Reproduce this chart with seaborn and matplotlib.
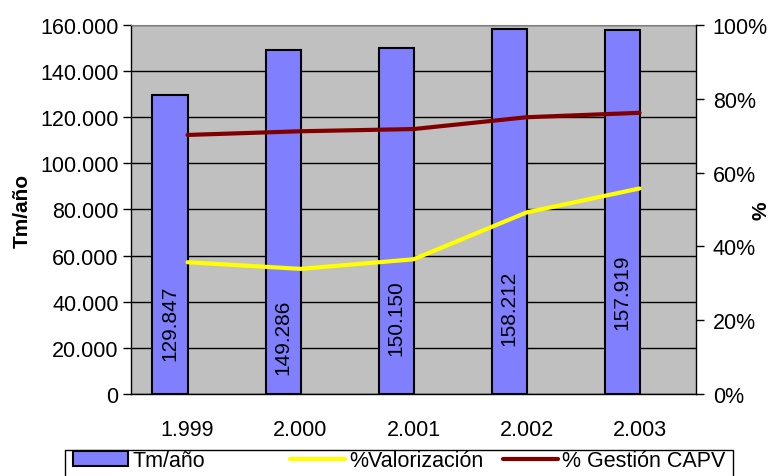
import numpy as np
import pandas as pd
import matplotlib
matplotlib.use("Agg")
import matplotlib.pyplot as plt
import seaborn as sns
from matplotlib.ticker import FuncFormatter, FixedLocator
from matplotlib.patches import Patch, Rectangle
from matplotlib.lines import Line2D

# data
years = ["1.999", "2.000", "2.001", "2.002", "2.003"]
tm_anyo = [129847, 149286, 150150, 158212, 157919]
pct_valorizacion = [35.7, 33.9, 36.5, 49.2, 55.7]
pct_gestion = [70.2, 71.2, 71.8, 75.0, 76.2]

# layout only: where the rotated value labels sit (data units, left axis)
label_y = [31200, 25200, 33400, 37700, 44700]

BAR_COLOR = "#8080FF"
YELLOW = "#FFFF00"
DARKRED = "#800000"

sns.set_style("white")
plt.rcParams["font.family"] = ["Liberation Sans", "DejaVu Sans"]
plt.rcParams["text.color"] = "black"
plt.rcParams["axes.labelcolor"] = "black"
plt.rcParams["xtick.color"] = "black"
plt.rcParams["ytick.color"] = "black"

df = pd.DataFrame({"year": years, "tm": tm_anyo, "serie": "Tm/año"})

fig = plt.figure(figsize=(7.73, 4.77), dpi=100)
ax = fig.add_axes([0.1695, 0.172, 0.731, 0.7735])
ax.set_facecolor("#C0C0C0")

# empty second hue level pushes the bars left of the category centre (like Excel)
sns.barplot(data=df, x="year", y="tm", hue="serie", hue_order=["Tm/año", "_blank"],
            dodge=True, width=0.62, saturation=1,
            palette={"Tm/año": BAR_COLOR, "_blank": BAR_COLOR},
            edgecolor="black", linewidth=1.5, legend=False, ax=ax, zorder=3)

ax.set_ylim(0, 160000)
ax.set_xlim(-0.5, 4.5)
ax.yaxis.set_major_locator(FixedLocator(np.arange(0, 160001, 20000)))
ax.yaxis.set_major_formatter(FuncFormatter(lambda v, p: f"{int(v):,}".replace(",", ".")))
ax.grid(axis="y", color="black", linewidth=1, zorder=0)
ax.set_axisbelow(True)

ax.set_xticks(range(len(years)))
ax.set_xticklabels(years)
ax.xaxis.set_minor_locator(FixedLocator(np.arange(-0.5, 5, 1.0)))
ax.tick_params(axis="x", which="major", length=0, pad=18, labelsize=15.5)
ax.tick_params(axis="x", which="minor", length=6, width=1, direction="out")
ax.tick_params(axis="y", which="major", length=6, width=1, direction="out", labelsize=15.5, pad=3)
ax.set_xlabel("")
ax.set_ylabel("Tm/año", fontsize=15, fontweight="bold", labelpad=6)

for sp in ["left", "bottom"]:
    ax.spines[sp].set_color("black")
    ax.spines[sp].set_linewidth(1)
ax.spines["top"].set_color("#808080")
ax.spines["right"].set_visible(False)

for i, (v, ly) in enumerate(zip(tm_anyo, label_y)):
    ax.text(i - 0.155, ly, f"{v:,}".replace(",", "."), rotation=90,
            ha="center", va="center", fontsize=15, zorder=5)

ax2 = ax.twinx()
xs = np.arange(len(years))
sns.lineplot(x=xs, y=pct_valorizacion, color=YELLOW, linewidth=3, ax=ax2, zorder=4)
sns.lineplot(x=xs, y=pct_gestion, color=DARKRED, linewidth=3, ax=ax2, zorder=4)
ax2.set_ylim(0, 100)
ax2.set_xlim(-0.5, 4.5)
ax2.set_yticks(np.arange(0, 101, 20))
ax2.yaxis.set_major_formatter(FuncFormatter(lambda v, p: f"{int(v)}%"))
ax2.tick_params(axis="y", length=6, width=1, direction="out", labelsize=15.5, pad=6)
ax2.set_ylabel("%", fontsize=15, fontweight="bold")
ax2.yaxis.set_label_coords(1.098, 0.5)
for sp in ["left", "top", "bottom"]:
    ax2.spines[sp].set_visible(False)
ax2.spines["right"].set_color("black")
ax2.spines["right"].set_linewidth(1)

# legend box below the plot, three entries at evenly spaced starts (Excel style)
fig.patches.append(Rectangle((65 / 773, -0.02), (733 - 65) / 773, 0.0745,
                             transform=fig.transFigure, facecolor="white",
                             edgecolor="black", linewidth=1, zorder=0))
handles = [
    Patch(facecolor=BAR_COLOR, edgecolor="black", linewidth=1.5),
    Line2D([0], [0], color=YELLOW, linewidth=3),
    Line2D([0], [0], color=DARKRED, linewidth=3),
]
labels = ["Tm/año", "%Valorización", "% Gestión CAPV"]
starts = [71 / 773, 288 / 773, 501 / 773]
for h, lab, x0 in zip(handles, labels, starts):
    fig.legend([h], [lab], loc="upper left", bbox_to_anchor=(x0, 0.058),
               bbox_transform=fig.transFigure, fontsize=15.5, frameon=False,
               borderpad=0.1, handlelength=2.55, handletextpad=0.2, borderaxespad=0)

fig.savefig("out.png", dpi=100)
